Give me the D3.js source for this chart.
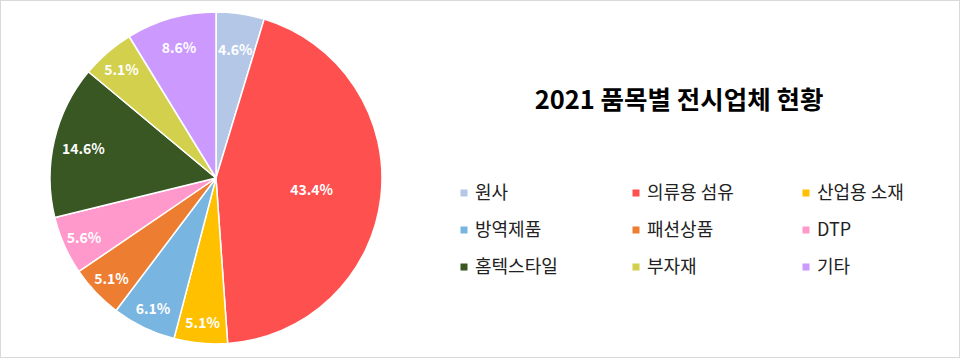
<!DOCTYPE html>
<html>
<head>
<meta charset="utf-8">
<script src="https://cdn.jsdelivr.net/npm/d3@7"></script>
<style>
  html, body { margin: 0; padding: 0; background: #fff; }
  svg { display: block; }
</style>
</head>
<body>
<svg id="chart" width="960" height="358"></svg>
<script>
const categories = ["원사", "의류용 섬유", "산업용 소재", "방역제품", "패션상품", "DTP", "홈텍스타일", "부자재", "기타"];
const values = [4.6, 43.4, 5.1, 6.1, 5.1, 5.6, 14.6, 5.1, 8.6];
const colors = ["#B4C7E7", "#FF5050", "#FFC000", "#78B5E0", "#ED7D31", "#FF99CC", "#385723", "#D3D04E", "#CC99FF"];
const title = "2021 품목별 전시업체 현황";

const svg = d3.select("#chart");
const W = 960, H = 358;
const font = "'Noto Sans CJK KR', 'Noto Sans', sans-serif";

svg.append("rect").attr("x", 0.5).attr("y", 0.5).attr("width", W - 1).attr("height", H - 1)
  .attr("fill", "#fff").attr("stroke", "#d9d9d9").attr("stroke-width", 1);

const cx = 216, cy = 178, R = 166;
const data = categories.map((c, i) => ({ name: c, value: values[i], color: colors[i] }));
const pie = d3.pie().value(d => d.value).sort(null);
const arcs = pie(data);
const arc = d3.arc().innerRadius(0).outerRadius(R);

const g = svg.append("g").attr("transform", `translate(${cx},${cy})`);
g.selectAll("path").data(arcs).join("path")
  .attr("d", arc)
  .attr("fill", d => d.data.color)
  .attr("stroke", "#fff")
  .attr("stroke-width", 1.5)
  .attr("stroke-linejoin", "round");

g.selectAll("text").data(arcs).join("text")
  .attr("transform", d => {
    const share = (d.endAngle - d.startAngle) / (2 * Math.PI);
    let lr;
    if (share > 0.3) lr = R * 0.58;
    else if (share > 0.08) lr = R * 0.82;
    else if (share < 0.048) lr = R * 0.79;
    else lr = R * 0.87;
    const a = (d.startAngle + d.endAngle) / 2;
    return `translate(${Math.sin(a) * lr},${-Math.cos(a) * lr})`;
  })
  .attr("text-anchor", "middle")
  .attr("dy", "0.45em")
  .attr("fill", "#fff")
  .attr("font-family", font)
  .attr("font-weight", "bold")
  .attr("font-size", 14)
  .text(d => d.data.value.toFixed(1) + "%");

svg.append("text")
  .attr("x", 679).attr("y", 109)
  .attr("text-anchor", "middle")
  .attr("font-family", font)
  .attr("font-weight", "bold")
  .attr("font-size", 25.5)
  .attr("fill", "#000")
  .text(title);

const colX = [464, 636, 806];
const rowY = [193, 230, 267];
const leg = svg.append("g");
data.forEach((d, i) => {
  const x = colX[i % 3], y = rowY[Math.floor(i / 3)];
  leg.append("rect").attr("x", x - 3.5).attr("y", y - 3.5).attr("width", 7).attr("height", 7).attr("fill", d.color);
  leg.append("text").attr("x", x + 11).attr("y", y).attr("dy", "0.35em")
    .attr("font-family", font).attr("font-size", 18).attr("fill", "#222")
    .text(d.name);
});
</script>
</body>
</html>
